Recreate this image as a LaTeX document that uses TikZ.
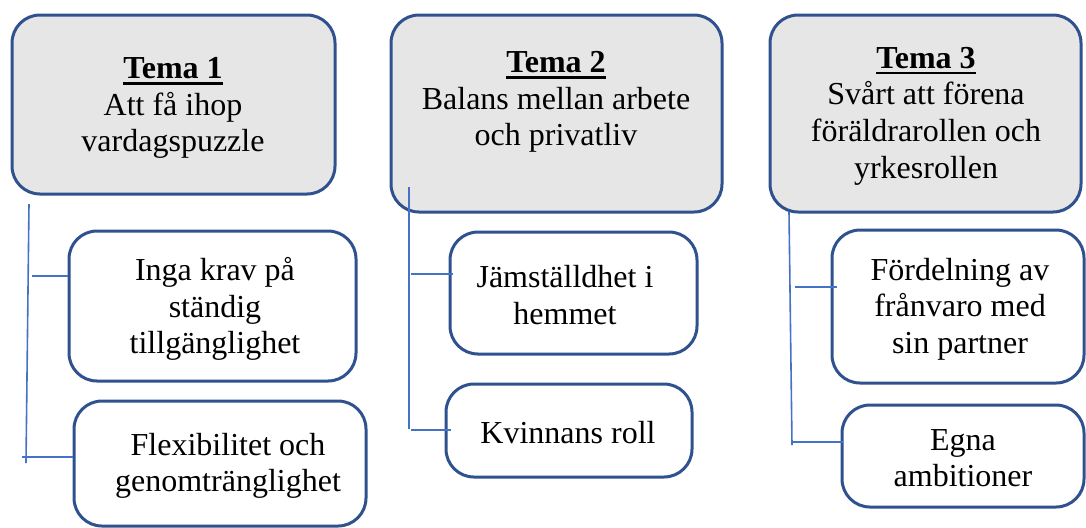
\documentclass[tikz,border=0pt]{standalone}
\usepackage{fontspec}
\setmainfont{Liberation Serif}
\definecolor{boxblue}{HTML}{2F528F}
\definecolor{linkblue}{HTML}{4472C4}
\definecolor{boxgray}{HTML}{E7E6E6}
\newsavebox\themebox
\newcommand\themetitle[1]{\sbox\themebox{\textbf{#1}}\rlap{\rule[-3pt]{\wd\themebox}{1.3pt}}\usebox\themebox}
\begin{document}
\begin{tikzpicture}[x=0.5pt,y=-0.5pt,
  box/.style={draw=boxblue,line width=1.5pt,rounded corners=14pt,inner sep=0pt,fill=white},
  head/.style={box,fill=boxgray},
  txt/.style={align=center,font=\fontsize{16}{18.3}\selectfont,inner sep=0pt},
  link/.style={draw=linkblue,line width=0.8pt}]
\useasboundingbox (0,0) rectangle (1086,527);
% head boxes
\node[head,minimum width=161.5pt,minimum height=89.5pt] (t1) at (173.5,104.5) {};
\node[head,minimum width=165.5pt,minimum height=98.5pt] (t2) at (556.5,113.5) {};
\node[head,minimum width=155.5pt,minimum height=98.5pt] (t3) at (925.5,113.5) {};
\node[txt] (tt1) at (173,108) {\themetitle{Tema 1}\\Att få ihop\\vardagspuzzle};
\node[txt] (tt2) at (556,102) {\themetitle{Tema 2}\\Balans mellan arbete\\och privatliv};
\node[txt] (tt3) at (926,116) {\themetitle{Tema 3}\\Svårt att förena\\föräldrarollen och\\yrkesrollen};
% sub boxes
\node[box,minimum width=143.5pt,minimum height=75pt] (s1a) at (212.5,306) {};
\node[box,minimum width=146pt,minimum height=62.5pt] (s1b) at (220,463.5) {};
\node[box,minimum width=123.5pt,minimum height=61pt] (s2a) at (573.5,293) {};
\node[box,minimum width=123pt,minimum height=46.5pt] (s2b) at (569,430.5) {};
\node[box,minimum width=126pt,minimum height=76.5pt] (s3a) at (958,306.5) {};
\node[box,minimum width=121pt,minimum height=51pt] (s3b) at (963,456) {};
\node[txt] (x1a) at (215,309) {Inga krav på\\ständig\\tillgänglighet};
\node[txt] (x1b) at (228,466) {Flexibilitet och\\genomtränglighet};
\node[txt] (x2a) at (565,295) {Jämställdhet i\\hemmet};
\node[txt] (x2b) at (568,433) {Kvinnans roll};
\node[txt] (x3a) at (960,309) {Fördelning av\\frånvaro med\\sin partner};
\node[txt] (x3b) at (963,458) {Egna\\ambitioner};
% connectors
\coordinate (v1t) at (29,204); \coordinate (v1b) at (26,463);
\coordinate (h1a) at (32,276); \coordinate (h1b) at (22,457);
\draw[link] (v1t) -- (v1b);
\draw[link] (h1a) -- (h1a -| s1a.west);
\draw[link] (h1b) -- (h1b -| s1b.west);
\coordinate (v2t) at (409,187); \coordinate (v2b) at (409,429);
\coordinate (h2a) at (411,274); \coordinate (h2b) at (411,430);
\draw[link] (v2t) -- (v2b);
\draw[link] (h2a) -- ([xshift=2pt]h2a -| s2a.west);
\draw[link] (h2b) -- ([xshift=3pt]h2b -| s2b.west);
\coordinate (v3t) at (789,212); \coordinate (v3b) at (792,445);
\coordinate (h3a) at (795,287); \coordinate (h3b) at (793,442);
\draw[link] (v3t) -- (v3b);
\draw[link] (h3a) -- ([xshift=3pt]h3a -| s3a.west);
\draw[link] (h3b) -- ([xshift=1pt]h3b -| s3b.west);
\end{tikzpicture}
\end{document}
